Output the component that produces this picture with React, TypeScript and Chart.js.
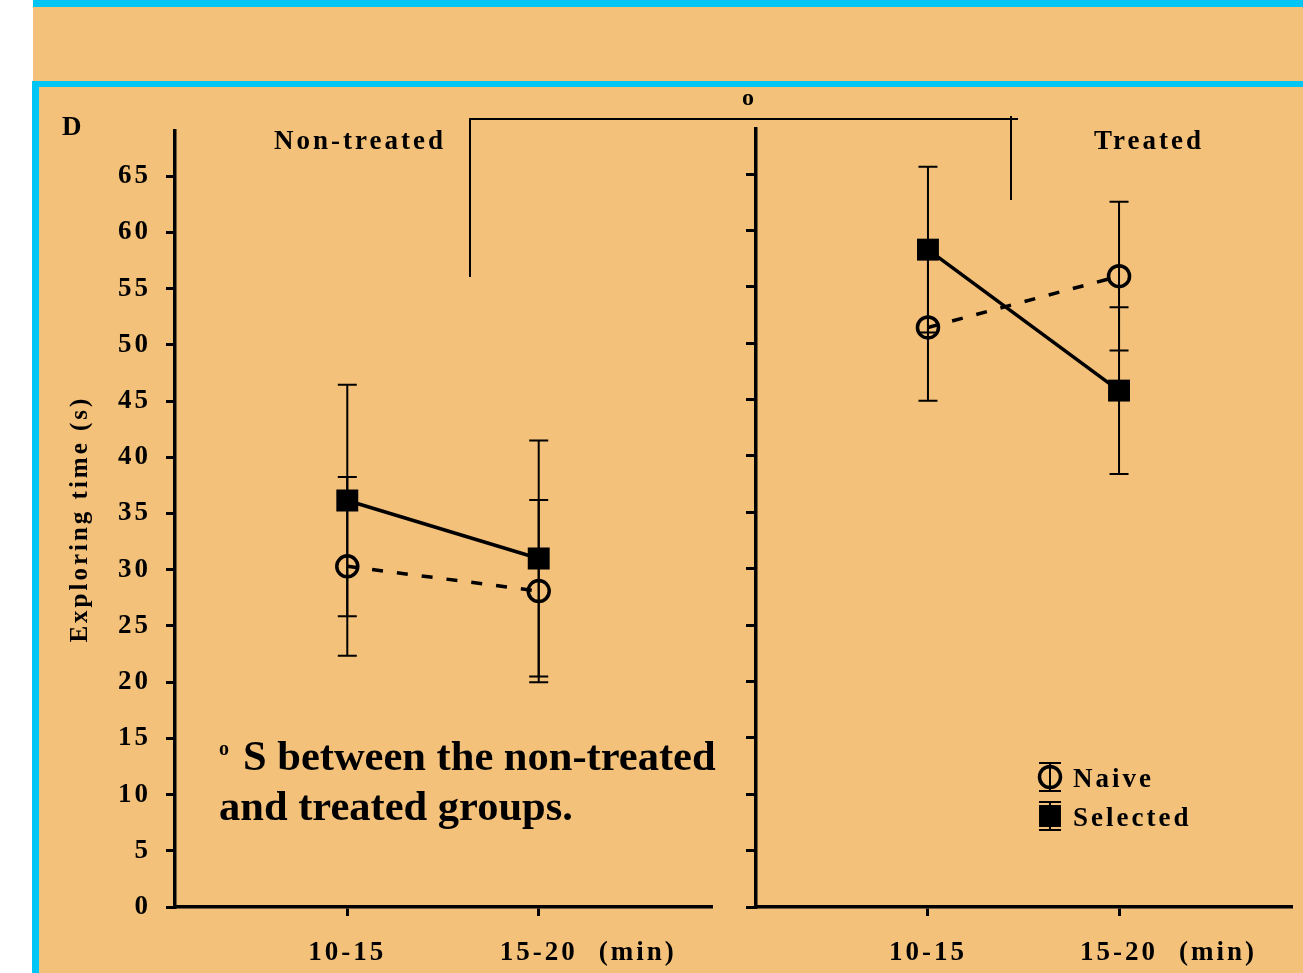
import React, { useEffect, useRef } from 'react';
import { Chart, registerables } from 'chart.js';

Chart.register(...registerables);

// Observation windows (x axis) and unit
const phases = ['10-15', '15-20'];
const phaseUnit = '(min)';
const yTickValues = [0, 5, 10, 15, 20, 25, 30, 35, 40, 45, 50, 55, 60, 65];

// Mean exploring time (s) and SEM, non-treated groups
const naiveNonTreated = [30.3, 28.1];
const naiveNonTreatedSem = [7.95, 8.1];
const selectedNonTreated = [36.15, 31.0];
const selectedNonTreatedSem = [10.3, 10.5];

// Mean exploring time (s) and SEM, treated groups
const naiveTreated = [51.4, 55.95];
const naiveTreatedSem = [6.5, 6.6];
const selectedTreated = [58.3, 45.8];
const selectedTreatedSem = [7.35, 7.4];

const ORANGE = '#F3C17A';
const BLUE = '#00C5F5';
const INK = '#000000';
const SERIF = '"Liberation Serif", "Times New Roman", serif';
const SPACING = '3px';
const LABEL_SIZE = 27;
const X_TICK_PAD = 21;

const toPoints = (values: number[]) => values.map((y, i) => ({ x: i + 1, y }));

// Vertical SEM whiskers, drawn beneath the markers
const semBarsPlugin = {
  id: 'semBars',
  beforeDatasetsDraw(chart: any) {
    const { ctx } = chart;
    const yScale = chart.scales.y;
    chart.data.datasets.forEach((ds: any, i: number) => {
      const meta = chart.getDatasetMeta(i);
      meta.data.forEach((pt: any, j: number) => {
        const v = ds.data[j].y;
        const e = ds.sem[j];
        const top = yScale.getPixelForValue(v + e);
        const bot = yScale.getPixelForValue(v - e);
        ctx.save();
        ctx.strokeStyle = INK;
        ctx.lineWidth = 2;
        ctx.beginPath();
        ctx.moveTo(pt.x, top);
        ctx.lineTo(pt.x, bot);
        ctx.moveTo(pt.x - 9.5, top);
        ctx.lineTo(pt.x + 9.5, top);
        ctx.moveTo(pt.x - 9.5, bot);
        ctx.lineTo(pt.x + 9.5, bot);
        ctx.stroke();
        ctx.restore();
      });
    });
  },
};

// Spaced-out lettering for all canvas text
const spacingPlugin = {
  id: 'letterSpacing',
  beforeDraw(chart: any) {
    chart.ctx.letterSpacing = SPACING;
  },
};

// Unit label placed after the last x tick label
const unitPlugin = {
  id: 'phaseUnit',
  afterDraw(chart: any) {
    const { ctx } = chart;
    const xs = chart.scales.x;
    const last = xs.ticks[xs.ticks.length - 1];
    const px = xs.getPixelForValue(last.value);
    ctx.save();
    ctx.letterSpacing = SPACING;
    ctx.font = `bold ${LABEL_SIZE}px ${SERIF}`;
    ctx.fillStyle = INK;
    const w = ctx.measureText(phases[Math.round(last.value) - 1]).width;
    ctx.textAlign = 'left';
    ctx.textBaseline = 'middle';
    ctx.fillText(phaseUnit, px + w / 2 + 21, xs.top + 9 + X_TICK_PAD + LABEL_SIZE * 0.6);
    ctx.restore();
  },
};

function drawMarker(ctx: CanvasRenderingContext2D, ds: any, x: number, y: number) {
  ctx.save();
  if (ds.pointStyle === 'rect') {
    const s = ds.pointRadius * Math.SQRT1_2;
    ctx.fillStyle = ds.pointBackgroundColor;
    ctx.fillRect(x - s, y - s, 2 * s, 2 * s);
  } else {
    ctx.strokeStyle = ds.pointBorderColor;
    ctx.lineWidth = ds.pointBorderWidth;
    ctx.beginPath();
    ctx.arc(x, y, ds.pointRadius, 0, Math.PI * 2);
    ctx.stroke();
  }
  ctx.restore();
}

// Legend with whisker + marker symbols
const legendPlugin = {
  id: 'whiskerLegend',
  afterDraw(chart: any) {
    const { ctx, chartArea } = chart;
    const x0 = chartArea.right - 241;
    const y0 = chartArea.bottom - 130;
    chart.data.datasets.forEach((ds: any, i: number) => {
      const cy = y0 + i * 39;
      ctx.save();
      ctx.strokeStyle = INK;
      ctx.lineWidth = 2;
      ctx.beginPath();
      ctx.moveTo(x0, cy - 14);
      ctx.lineTo(x0, cy + 14);
      ctx.moveTo(x0 - 11, cy - 14);
      ctx.lineTo(x0 + 11, cy - 14);
      ctx.moveTo(x0 - 11, cy + 14);
      ctx.lineTo(x0 + 11, cy + 14);
      ctx.stroke();
      ctx.restore();
      drawMarker(ctx, ds, x0, cy);
      ctx.save();
      ctx.letterSpacing = SPACING;
      ctx.font = `bold ${LABEL_SIZE}px ${SERIF}`;
      ctx.fillStyle = INK;
      ctx.textAlign = 'left';
      ctx.textBaseline = 'alphabetic';
      ctx.fillText(ds.label, x0 + 23, cy + 10);
      ctx.restore();
    });
  },
};

function makeConfig(
  naive: number[],
  naiveSem: number[],
  selected: number[],
  selectedSem: number[],
  isLeft: boolean,
): any {
  const tickFont = { family: SERIF, size: LABEL_SIZE, weight: 'bold' as const };
  return {
    type: 'line',
    data: {
      datasets: [
        {
          label: 'Naive',
          data: toPoints(naive),
          sem: naiveSem,
          borderColor: INK,
          borderWidth: 3.5,
          borderDash: [11, 14],
          pointStyle: 'circle',
          pointRadius: 10.5,
          pointBorderWidth: 3.5,
          pointBorderColor: INK,
          pointBackgroundColor: 'rgba(0,0,0,0)',
          fill: false,
        },
        {
          label: 'Selected',
          data: toPoints(selected),
          sem: selectedSem,
          borderColor: INK,
          borderWidth: 3.5,
          pointStyle: 'rect',
          pointRadius: 15.5,
          pointBorderWidth: 0,
          pointBorderColor: INK,
          pointBackgroundColor: INK,
          fill: false,
        },
      ],
    },
    options: {
      responsive: false,
      animation: false,
      devicePixelRatio: 1,
      layout: {
        autoPadding: false,
        padding: { top: 29, right: isLeft ? 29 : 12, bottom: 0, left: 0 },
      },
      plugins: { legend: { display: false }, tooltip: { enabled: false } },
      scales: {
        x: {
          type: 'linear',
          min: 0.1,
          max: 2.9,
          afterBuildTicks: (axis: any) => {
            axis.ticks = phases.map((_, i) => ({ value: i + 1 }));
          },
          afterFit: (s: any) => {
            s.height = 66;
          },
          grid: {
            display: true,
            drawOnChartArea: false,
            drawTicks: true,
            tickLength: 9,
            lineWidth: 3,
            tickWidth: 3,
            tickColor: INK,
            color: INK,
          },
          border: { display: true, color: INK, width: 3.5 },
          ticks: {
            autoSkip: false,
            maxRotation: 0,
            minRotation: 0,
            padding: X_TICK_PAD,
            color: INK,
            font: tickFont,
            callback: (v: number) => phases[Math.round(v) - 1] ?? '',
          },
        },
        y: {
          type: 'linear',
          min: 0,
          max: 69,
          afterBuildTicks: (axis: any) => {
            axis.ticks = yTickValues.map((v) => ({ value: v }));
          },
          afterFit: (s: any) => {
            s.width = isLeft ? 135 : 15;
          },
          grid: {
            display: true,
            drawOnChartArea: false,
            drawTicks: true,
            tickLength: isLeft ? 9 : 10,
            lineWidth: 3,
            tickWidth: 3,
            tickColor: INK,
            color: INK,
          },
          border: { display: true, color: INK, width: 3.5 },
          ticks: {
            display: isLeft,
            padding: 15,
            color: INK,
            font: tickFont,
          },
          title: {
            display: isLeft,
            text: 'Exploring time (s)',
            color: INK,
            font: { family: SERIF, size: 25, weight: 'bold' },
            padding: { top: 26, bottom: 0 },
          },
        },
      },
    },
    plugins: isLeft
      ? [spacingPlugin, semBarsPlugin, unitPlugin]
      : [spacingPlugin, semBarsPlugin, unitPlugin, legendPlugin],
  };
}

function Panel(props: {
  left: number;
  width: number;
  naive: number[];
  naiveSem: number[];
  selected: number[];
  selectedSem: number[];
  isLeft: boolean;
}) {
  const ref = useRef<HTMLCanvasElement>(null);
  useEffect(() => {
    if (!ref.current) return;
    const chart = new Chart(
      ref.current,
      makeConfig(props.naive, props.naiveSem, props.selected, props.selectedSem, props.isLeft),
    );
    return () => chart.destroy();
  }, []);
  return (
    <canvas
      ref={ref}
      width={props.width}
      height={873}
      style={{ position: 'absolute', left: props.left, top: 100, width: props.width, height: 873 }}
    />
  );
}

export default function App() {
  const textStyle = { fontFamily: SERIF, fontWeight: 700, fill: INK } as const;
  return (
    <div
      style={{
        position: 'absolute',
        left: 0,
        top: 0,
        width: 1303,
        height: 973,
        overflow: 'hidden',
        background: '#ffffff',
      }}
    >
      {/* top strip of the previous panel */}
      <div style={{ position: 'absolute', left: 33, top: 0, width: 1270, height: 7, background: BLUE }} />
      <div style={{ position: 'absolute', left: 33, top: 7, width: 1270, height: 74, background: ORANGE }} />
      {/* panel D frame */}
      <div style={{ position: 'absolute', left: 32, top: 81, width: 1271, height: 892, background: BLUE }} />
      <div style={{ position: 'absolute', left: 39, top: 87, width: 1264, height: 886, background: ORANGE }} />

      <Panel
        left={40}
        width={700}
        naive={naiveNonTreated}
        naiveSem={naiveNonTreatedSem}
        selected={selectedNonTreated}
        selectedSem={selectedNonTreatedSem}
        isLeft={true}
      />
      <Panel
        left={741}
        width={562}
        naive={naiveTreated}
        naiveSem={naiveTreatedSem}
        selected={selectedTreated}
        selectedSem={selectedTreatedSem}
        isLeft={false}
      />

      <svg
        width={1303}
        height={973}
        style={{ position: 'absolute', left: 0, top: 0, pointerEvents: 'none' }}
      >
        <text x={62} y={135} fontSize={27} style={textStyle}>D</text>
        <text x={274} y={149} fontSize={27} letterSpacing={3} style={textStyle}>Non-treated</text>
        <text x={1094} y={149} fontSize={27} letterSpacing={3} style={textStyle}>Treated</text>

        {/* comparison bracket between groups */}
        <g stroke={INK} strokeWidth={2} fill="none">
          <line x1={470} y1={118} x2={470} y2={277} />
          <line x1={469} y1={119} x2={1018} y2={119} />
          <line x1={1011} y1={116} x2={1011} y2={200} />
        </g>
        <text x={748} y={105} fontSize={24} textAnchor="middle" style={textStyle}>o</text>

        {/* footnote */}
        <text x={219} y={755} fontSize={20} style={textStyle}>o</text>
        <text x={243} y={770} fontSize={42.5} style={textStyle}>S between the non-treated</text>
        <text x={219} y={820} fontSize={42.5} style={textStyle}>and treated groups.</text>
      </svg>
    </div>
  );
}
